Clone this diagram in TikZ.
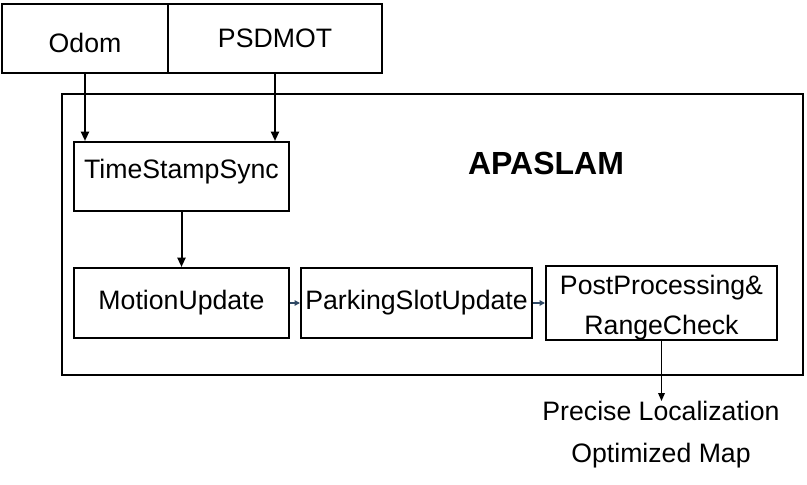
\documentclass[tikz,border=0pt]{standalone}
\usepackage{fontspec}
\setmainfont{Liberation Sans}
\usetikzlibrary{arrows.meta}
\definecolor{linkblue}{RGB}{47,72,100}
\begin{document}
\begin{tikzpicture}[x=0.75pt,y=-0.75pt,
    box/.style={draw, line width=1.5pt, inner sep=0pt, align=center,
      font=\fontsize{20}{30}\selectfont},
    flow/.style={-{Triangle[length=7pt,width=6pt]}, line width=1.5pt},
    link/.style={-{Triangle[length=4pt,width=4pt]}, line width=1pt, linkblue},
    ]
    \useasboundingbox (0,0) rectangle (807,485);
    % Inputs
    \node[box, minimum width=124.5pt, minimum height=51.75pt, text height=20.5pt, text depth=0pt] (odom) at (85,38.5) {Odom};
    \node[box, minimum width=160.5pt, minimum height=51.75pt] (psdmot) at (275,38.5) {PSDMOT};
    % APASLAM frame
    \node[draw, line width=1.5pt, minimum width=555.75pt, minimum height=210.75pt] (frame) at (432.5,234.5) {};
    \node[font=\fontsize{24}{28}\selectfont\bfseries] (title) at (546,163) {APASLAM};
    % Stages
    \node[box, minimum width=161.25pt, minimum height=51.75pt, text height=14.5pt, text depth=11.7pt] (sync) at (181.5,176.5) {TimeStampSync};
    \node[box, minimum width=161.25pt, minimum height=52.5pt] (motion) at (181.5,303) {MotionUpdate};
    \node[box, minimum width=173.25pt, minimum height=52.5pt] (parking) at (416.5,303) {ParkingSlotUpdate};
    \node[box, minimum width=173.25pt, minimum height=52.5pt] (post) at (661.5,303) {\rule{0pt}{22pt}PostProcessing\&\\RangeCheck};
    % Output
    \node[align=center, inner sep=0pt, font=\fontsize{20}{31.5}\selectfont, anchor=north] (out) at (661,401)
      {Precise Localization\\Optimized Map};
    % Connections
    \draw[flow] (odom.south) -- (odom.south |- sync.north);
    \draw[flow] (psdmot.south) -- (psdmot.south |- sync.north);
    \draw[flow] (sync) -- (motion);
    \draw[link] (motion) -- (parking);
    \draw[link] (parking) -- (post);
    \draw[-{Triangle[length=6pt,width=5pt]}, line width=1pt] (post.south) -- (post.south |- out.north);
\end{tikzpicture}
\end{document}
